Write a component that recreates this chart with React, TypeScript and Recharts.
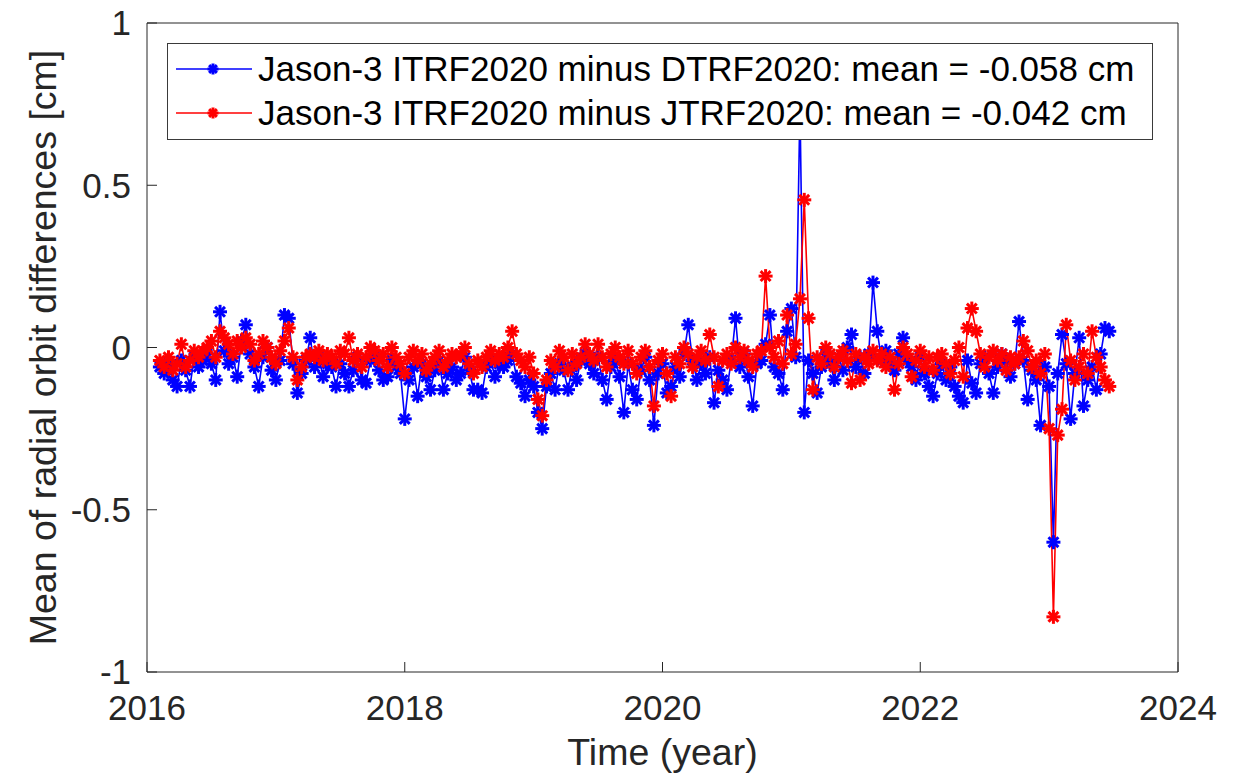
import { LineChart, Line, XAxis, YAxis, Legend } from 'recharts'

// one sample every 1/30 year, first sample at 2016.1
const START_YEAR = 2016.1
const STEP = 1 / 30

const xTicks = [2016, 2018, 2020, 2022, 2024]
const yTicks = [-1, -0.5, 0, 0.5, 1]

const dtrfLabel = 'Jason-3 ITRF2020 minus DTRF2020: mean = -0.058 cm'
const jtrfLabel = 'Jason-3 ITRF2020 minus JTRF2020: mean = -0.042 cm'

// ITRF2020 minus DTRF2020 (blue), cm
const dtrfDiff = [
  -0.06, -0.08, -0.05, -0.1, -0.12, -0.04, -0.07, -0.12, -0.03, -0.06,
  -0.04, -0.02, -0.05, -0.1, 0.11, -0.01, -0.05, -0.03, -0.09, 0.02,
  0.07, -0.02, -0.06, -0.12, -0.03, 0.0, -0.07, -0.1, -0.04, 0.1,
  0.09, -0.05, -0.14, -0.08, -0.04, 0.03, -0.06, -0.03, -0.09, -0.05,
  -0.06, -0.12, -0.05, -0.08, -0.12, -0.07, -0.03, -0.1, -0.11, -0.04,
  -0.03, -0.07, -0.1, -0.09, -0.04, -0.06, -0.08, -0.22, -0.1, -0.06,
  -0.15, -0.05, -0.09, -0.13, -0.07, -0.04, -0.13, -0.08, -0.06, -0.1,
  -0.08, -0.03, -0.07, -0.13, -0.13, -0.14, -0.06, -0.04, -0.09, -0.05,
  -0.06, -0.04, -0.02, -0.09, -0.11, -0.15, -0.1, -0.12, -0.2, -0.25,
  -0.12, -0.08, -0.13, -0.05, -0.07, -0.13, -0.06, -0.1, -0.04, -0.02,
  -0.05, -0.08, -0.03, -0.1, -0.16, -0.06, -0.04, -0.09, -0.2, -0.05,
  -0.13, -0.16, -0.07, -0.03, -0.1, -0.24, -0.08, -0.05, -0.14, -0.12,
  -0.06, -0.09, -0.02, 0.07, -0.04, -0.1, -0.05, -0.08, -0.03, -0.17,
  -0.07, -0.1, -0.13, -0.04, 0.09, -0.06, -0.02, -0.09, -0.18, -0.05,
  -0.04, 0.01, 0.1, -0.06, -0.08, -0.13, 0.05, 0.12, -0.03, 0.75,
  -0.2, -0.04, -0.08, -0.14, -0.06, -0.02, -0.05, -0.1, -0.03, -0.07,
  0.0, 0.04, -0.06, -0.03, -0.08, -0.02, 0.2, 0.05, -0.04, -0.01,
  -0.05, -0.07, -0.02, 0.03, -0.04, -0.06, -0.1, -0.03, -0.08, -0.12,
  -0.15, -0.08, -0.05, -0.1, -0.06, -0.12, -0.15, -0.17, -0.04, -0.11,
  -0.14, -0.05, -0.03, -0.08, -0.14, -0.06, -0.02, -0.04, -0.09, -0.05,
  0.08, -0.04, -0.16, -0.07, -0.1, -0.24, -0.06, -0.12, -0.6, -0.08,
  0.04, -0.05, -0.22, -0.08, 0.03, -0.18, -0.1, -0.06, -0.13, -0.02, 0.06, 0.05,
]

// ITRF2020 minus JTRF2020 (red), cm
const jtrfDiff = [
  -0.04, -0.06, -0.03, -0.07, -0.05, 0.01, -0.06, -0.04, -0.01, -0.03,
  -0.01, 0.0, 0.02, -0.03, 0.05, 0.03, 0.01, -0.02, 0.02, 0.0,
  0.03, 0.01, -0.04, -0.02, 0.02, 0.0, -0.03, -0.05, -0.01, 0.02,
  0.06, -0.03, -0.1, -0.06, -0.03, -0.02, -0.03, -0.01, -0.04, -0.02,
  -0.03, -0.05, -0.01, -0.02, 0.03, -0.04, -0.02, -0.06, -0.03, 0.0,
  -0.01, -0.04, -0.02, -0.06, 0.0, -0.03, -0.05, -0.08, -0.03, -0.01,
  -0.04, -0.02, -0.07, -0.05, -0.03, -0.01, -0.06, -0.04, -0.02, -0.03,
  -0.02, 0.0, -0.05, -0.08, -0.04, -0.06, -0.03, -0.01, -0.04, -0.02,
  -0.03, 0.0, 0.05, -0.02, -0.04, -0.06, -0.03, -0.08, -0.16, -0.21,
  -0.1, -0.04, -0.06, -0.01, -0.03, -0.07, -0.02, -0.05, -0.03, 0.01,
  -0.02, -0.04, 0.01, -0.03, -0.06, -0.02, 0.0, -0.03, -0.05, -0.01,
  -0.05, -0.08, -0.03, -0.01, -0.06, -0.18, -0.04, -0.02, -0.08, -0.15,
  -0.03, -0.05, 0.0, -0.02, -0.06, -0.03, -0.01, -0.04, 0.04, -0.03,
  -0.12, -0.04, -0.02, -0.05, 0.0, -0.03, -0.01, -0.04, -0.06, -0.02,
  -0.01, 0.22, 0.0, -0.03, 0.02, -0.05, 0.1, -0.02, 0.01, 0.15,
  0.455, 0.09, -0.13, -0.03, -0.05, 0.0, -0.02, -0.06, -0.03, -0.01,
  -0.04, -0.11, -0.02, -0.1, -0.03, -0.05, -0.01, -0.04, -0.02, -0.06,
  -0.03, -0.13, -0.05, 0.0, -0.02, -0.09, -0.04, -0.01, -0.06, -0.03,
  -0.07, -0.03, -0.02, -0.05, -0.08, -0.04, 0.0, -0.09, 0.06, 0.12,
  0.05, -0.02, -0.06, -0.03, -0.01, -0.04, -0.02, -0.07, -0.03, -0.05,
  -0.03, 0.02, -0.01, -0.06, -0.04, -0.08, -0.02, -0.25, -0.83, -0.27,
  -0.19, 0.07, -0.04, -0.1, -0.06, -0.02, -0.08, 0.05, -0.03, -0.06, -0.1, -0.12,
]

const data = dtrfDiff.map((v, i) => ({
  t: START_YEAR + i * STEP,
  dtrf: v,
  jtrf: jtrfDiff[i],
}))

const AXIS = '#262626'
const BLUE = '#0000ff'
const RED = '#ff0000'

function Asterisk({ cx, cy, color, r = 7 }: { cx: number; cy: number; color: string; r?: number }) {
  const d = r * 0.7071
  return (
    <g stroke={color} strokeWidth={3} fill="none">
      <line x1={cx - r} y1={cy} x2={cx + r} y2={cy} />
      <line x1={cx} y1={cy - r} x2={cx} y2={cy + r} />
      <line x1={cx - d} y1={cy - d} x2={cx + d} y2={cy + d} />
      <line x1={cx - d} y1={cy + d} x2={cx + d} y2={cy - d} />
    </g>
  )
}

function LegendBox() {
  const rows = [
    { label: dtrfLabel, color: BLUE },
    { label: jtrfLabel, color: RED },
  ]
  return (
    <div
      style={{
        boxSizing: 'border-box',
        width: 986,
        height: 97,
        border: '1px solid #3a3a3a',
        background: '#fff',
        paddingTop: 3,
      }}
    >
      {rows.map((r) => (
        <div key={r.label} style={{ display: 'flex', alignItems: 'center', height: 44 }}>
          <svg width={90} height={20} style={{ flex: 'none' }}>
            <line x1={8} y1={10} x2={84} y2={10} stroke={r.color} strokeWidth={1.3} />
            <Asterisk cx={45} cy={10} color={r.color} r={5.5} />
          </svg>
          <span style={{ fontSize: 35, color: '#000', whiteSpace: 'nowrap', lineHeight: '44px' }}>
            {r.label}
          </span>
        </div>
      ))}
    </div>
  )
}

export default function App() {
  return (
    <div
      style={{
        position: 'absolute',
        left: 0,
        top: 0,
        width: 1238,
        height: 775,
        background: '#fff',
        fontFamily: '"Liberation Sans", Arial, Helvetica, sans-serif',
      }}
    >
      <LineChart
        width={1238}
        height={775}
        data={data}
        margin={{ top: 22, right: 59, bottom: 0, left: 0 }}
      >
        <XAxis
          dataKey="t"
          type="number"
          domain={[2016, 2024]}
          ticks={xTicks}
          height={103}
          tickSize={-10}
          tickMargin={33}
          axisLine={{ stroke: AXIS }}
          tickLine={{ stroke: AXIS }}
          tick={{ fontSize: 35, fill: AXIS }}
          label={{ value: 'Time (year)', position: 'insideBottom', offset: 10, fontSize: 37.5, fill: AXIS }}
        />
        <XAxis
          xAxisId="top"
          orientation="top"
          dataKey="t"
          type="number"
          domain={[2016, 2024]}
          ticks={xTicks}
          height={1}
          tickSize={-10}
          axisLine={{ stroke: AXIS }}
          tickLine={{ stroke: AXIS }}
          tick={false}
        />
        <YAxis
          type="number"
          domain={[-1, 1]}
          ticks={yTicks}
          width={147}
          tickSize={-10}
          tickMargin={26}
          axisLine={{ stroke: AXIS }}
          tickLine={{ stroke: AXIS }}
          tick={{ fontSize: 35, fill: AXIS }}
          tickFormatter={(v: number) => String(v)}
          label={{
            content: (props: any) => {
              const vb = props.viewBox
              const x = vb.x + 56
              const y = vb.y + vb.height / 2
              return (
                <text
                  x={x}
                  y={y}
                  transform={`rotate(-90 ${x} ${y})`}
                  textAnchor="middle"
                  fontSize={37.5}
                  fill={AXIS}
                >
                  Mean of radial orbit differences [cm]
                </text>
              )
            },
          }}
        />
        <YAxis
          yAxisId="right"
          orientation="right"
          type="number"
          domain={[-1, 1]}
          ticks={yTicks}
          width={1}
          tickSize={-10}
          axisLine={{ stroke: AXIS }}
          tickLine={{ stroke: AXIS }}
          tick={false}
        />
        <Line
          dataKey="dtrf"
          name={dtrfLabel}
          stroke={BLUE}
          strokeWidth={1.6}
          isAnimationActive={false}
          dot={(p: any) => <Asterisk key={`d-${p.index}`} cx={p.cx} cy={p.cy} color={BLUE} />}
        />
        <Line
          dataKey="jtrf"
          name={jtrfLabel}
          stroke={RED}
          strokeWidth={1.6}
          isAnimationActive={false}
          dot={(p: any) => <Asterisk key={`j-${p.index}`} cx={p.cx} cy={p.cy} color={RED} />}
        />
        <Legend
          layout="horizontal"
          verticalAlign="middle"
          align="center"
          content={() => <LegendBox />}
          wrapperStyle={{ position: 'absolute', left: 167, top: 43, width: 986, height: 97 }}
        />
      </LineChart>
    </div>
  )
}
